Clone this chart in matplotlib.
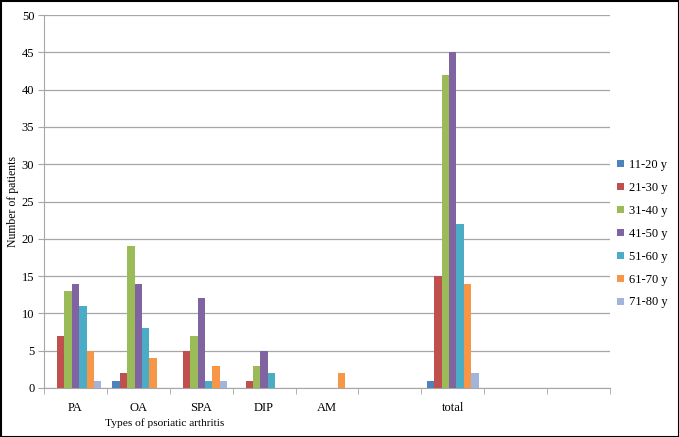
import matplotlib
matplotlib.use("Agg")
import matplotlib.pyplot as plt
import numpy as np
from matplotlib.patches import Rectangle

categories = ["PA", "OA", "SPA", "DIP", "AM", "", "total", "", ""]
series_names = ["11-20 y", "21-30 y", "31-40 y", "41-50 y", "51-60 y", "61-70 y", "71-80 y"]
v_11_20 = [0, 1, 0, 0, 0, 0, 1, 0, 0]
v_21_30 = [7, 2, 5, 1, 0, 0, 15, 0, 0]
v_31_40 = [13, 19, 7, 3, 0, 0, 42, 0, 0]
v_41_50 = [14, 14, 12, 5, 0, 0, 45, 0, 0]
v_51_60 = [11, 8, 1, 2, 0, 0, 22, 0, 0]
v_61_70 = [5, 4, 3, 0, 2, 0, 14, 0, 0]
v_71_80 = [1, 0, 1, 0, 0, 0, 2, 0, 0]
series_values = [v_11_20, v_21_30, v_31_40, v_41_50, v_51_60, v_61_70, v_71_80]
colors = ["#4F81BD", "#C0504D", "#9BBB59", "#8064A2", "#4BACC6", "#F79646", "#A3B4DA"]

plt.rcParams['font.family'] = ['Liberation Serif', 'DejaVu Serif']
fs = 9

fig = plt.figure(figsize=(6.79, 4.37), dpi=100)
ax = fig.add_axes([44/679, 1-388/437, (610-44)/679, (388-15)/437])

n = len(series_names)
group = 7/8.5
w = group / n
x = np.arange(len(categories))
for i, (name, vals, c) in enumerate(zip(series_names, series_values, colors)):
    ax.bar(x - group/2 + w*(i+0.5), vals, width=w, color=c, label=name, zorder=3, linewidth=0)

ax.set_xlim(-0.5, len(categories)-0.5)
ax.set_ylim(0, 50)
ax.set_yticks(range(0, 51, 5))
ax.yaxis.grid(True, color="#A6A6A6", linewidth=0.9, zorder=0)
ax.set_xticks(x)
ax.set_xticklabels(categories, fontsize=fs)
ax.tick_params(axis='x', length=0, pad=10)
ax.set_xticks(np.arange(-0.5, len(categories), 1.0), minor=True)
ax.tick_params(axis='x', which='minor', length=4, color="#A6A6A6", direction='out')
ax.tick_params(axis='y', length=4, color="#A6A6A6", labelsize=fs, pad=3)
for s in ['top', 'right']:
    ax.spines[s].set_visible(False)
ax.spines['left'].set_color("#A6A6A6")
ax.spines['bottom'].set_color("#A6A6A6")

ax.set_ylabel("Number of patients", fontsize=8.5, labelpad=2)
fig.text(165/679, 1-423/437, "Types of psoriatic arthritis", fontsize=8.2, ha='center', va='center')

leg = ax.legend(loc='upper left', bbox_to_anchor=(606/679, 1-148/437), bbox_transform=fig.transFigure,
                frameon=False, fontsize=fs, handlelength=0.5, handleheight=0.5, handletextpad=0.45,
                labelspacing=0.87)

fig.add_artist(Rectangle((0.5/679, 0.5/437), 1-1/679, 1-1/437, transform=fig.transFigure,
                         fill=False, edgecolor='black', linewidth=1.5))
fig.savefig("out.png", dpi=100)
